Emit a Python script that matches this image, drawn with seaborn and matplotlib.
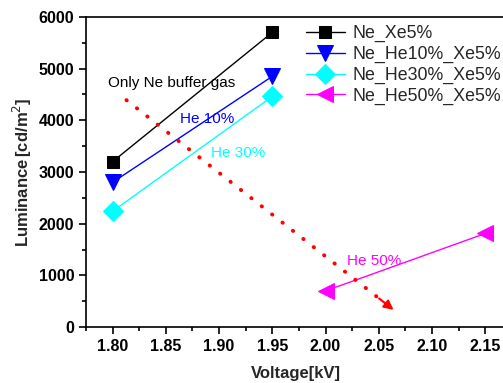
import numpy as np
import pandas as pd
import matplotlib
matplotlib.use("Agg")
import matplotlib.pyplot as plt
import seaborn as sns

# data
series = ["Ne_Xe5%", "Ne_He10%_Xe5%", "Ne_He30%_Xe5%", "Ne_He50%_Xe5%"]
voltage = [[1.80, 1.95], [1.80, 1.95], [1.80, 1.95], [2.00, 2.15]]
luminance = [[3200, 5700], [2800, 4850], [2240, 4460], [700, 1810]]
colors = ["black", "blue", "cyan", "magenta"]
markers = ["s", "v", "D", "<"]
msizes = [9, 11, 10, 11]

# annotation texts and the red dotted arrow
labels = ["Only Ne buffer gas", "He 10%", "He 30%", "He 50%"]
label_x = [1.796, 1.863, 1.892, 2.020]
label_y = [4720, 4020, 3360, 1270]
label_colors = ["black", "blue", "cyan", "magenta"]
arrow_x = [1.813, 2.066]
arrow_y = [4390, 300]

x_ticks = [1.80, 1.85, 1.90, 1.95, 2.00, 2.05, 2.10, 2.15]
y_ticks = [0, 1000, 2000, 3000, 4000, 5000, 6000]

sns.set_style("ticks")
plt.rcParams["font.family"] = ["Liberation Sans", "DejaVu Sans"]

fig = plt.figure(figsize=(5.03, 3.83), dpi=100)
ax = fig.add_axes([0.171, 0.146, 0.836, 0.810])

for name, xs, ys, c, m, ms in zip(series, voltage, luminance, colors, markers, msizes):
    df = pd.DataFrame({"Voltage": xs, "Luminance": ys})
    sns.lineplot(data=df, x="Voltage", y="Luminance", ax=ax, color=c, lw=1,
                 marker=m, markersize=ms, markeredgecolor=c, label=name)

for t, tx, ty, tc in zip(labels, label_x, label_y, label_colors):
    ax.text(tx, ty, t, color=tc, fontsize=11, va="center", ha="left")

# dotted red arrow
ax.plot(arrow_x, arrow_y, color="red", lw=2.8, linestyle=(0, (0.1, 3.3)),
        dash_capstyle="round")
frac = 0.93
ax.annotate("", xy=(arrow_x[1], arrow_y[1]),
            xytext=(arrow_x[0] + frac * (arrow_x[1] - arrow_x[0]),
                    arrow_y[0] + frac * (arrow_y[1] - arrow_y[0])),
            arrowprops=dict(arrowstyle="-|>", color="red", lw=1.5,
                            mutation_scale=14))

ax.set_xlim(1.78, 2.17)
ax.set_ylim(0, 6000)
ax.set_xticks(x_ticks)
ax.set_yticks(y_ticks)
ax.set_xticks(np.arange(1.775, 2.17, 0.05), minor=True)
ax.set_yticks(np.arange(500, 6000, 1000), minor=True)
ax.set_xticklabels([f"{v:.2f}" for v in x_ticks], fontweight="bold", fontsize=11.5)
ax.set_yticklabels([str(v) for v in y_ticks], fontweight="bold", fontsize=11.5)
ax.tick_params(which="major", direction="out", length=5, width=1.2, colors="black")
ax.tick_params(which="minor", direction="out", length=3, width=1.2, colors="black")
for s in ax.spines.values():
    s.set_linewidth(1.2)
    s.set_color("black")

ax.set_xlabel("Voltage[kV]", fontweight="bold", fontsize=12, labelpad=9)
ax.set_ylabel("Luminance$\\,$[cd/m$^2$]", fontweight="bold", fontsize=12, labelpad=3)

ax.legend(loc="upper left", bbox_to_anchor=(0.523, 0.974), frameon=False,
          fontsize=12.8, handlelength=2.2, handletextpad=0.4,
          labelspacing=0.21, borderpad=0, borderaxespad=0)

fig.savefig("out.png", dpi=100)
